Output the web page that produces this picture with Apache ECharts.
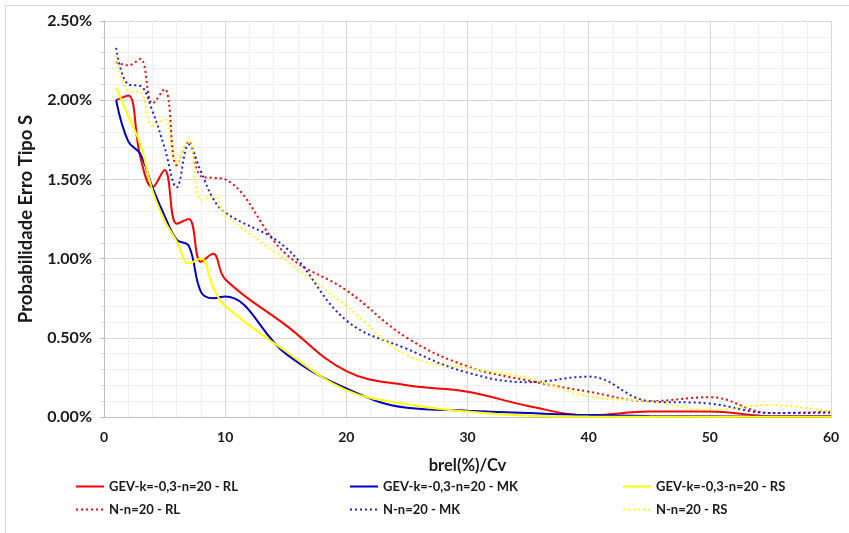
<!DOCTYPE html>
<html>
<head>
<meta charset="utf-8">
<script src="https://cdn.jsdelivr.net/npm/echarts@6/dist/echarts.min.js"></script>
<style>html,body{margin:0;padding:0;background:#fff}#c{width:849px;height:533px}</style>
</head>
<body>
<div id="c"></div>
<script>
// x positions (brel(%)/Cv)
const xValues = [1,2,3,4,5,6,7,8,9,10,15,20,25,30,35,40,45,50,55,60];
// Probabilidade Erro Tipo S, in %
const gevRL = [2.00,2.03,1.64,1.45,1.56,1.22,1.25,0.98,1.03,0.87,0.58,0.29,0.20,0.16,0.07,0.01,0.035,0.035,0.005,0.005];
const gevMK = [2.00,1.74,1.66,1.45,1.27,1.12,1.08,0.79,0.75,0.76,0.40,0.18,0.058,0.040,0.025,0.012,0.006,0.005,0.003,0.003];
const gevRS = [2.08,1.90,1.72,1.43,1.24,1.11,0.97,1.00,0.82,0.70,0.415,0.17,0.08,0.034,0.008,0.003,0.002,0.002,0.002,0.002];
const nRL   = [2.24,2.22,2.26,1.98,2.07,1.59,1.74,1.52,1.51,1.50,1.03,0.80,0.50,0.32,0.23,0.16,0.10,0.125,0.025,0.033];
const nMK   = [2.33,2.10,2.09,1.93,1.70,1.45,1.72,1.55,1.38,1.29,1.07,0.61,0.43,0.28,0.22,0.255,0.10,0.085,0.025,0.027];
const nRS   = [2.28,2.06,2.05,1.84,1.88,1.60,1.76,1.37,1.39,1.28,0.99,0.70,0.39,0.31,0.245,0.13,0.10,0.045,0.076,0.033];
const names = ['GEV-k=-0,3-n=20 - RL','GEV-k=-0,3-n=20 - MK','GEV-k=-0,3-n=20 - RS','N-n=20 - RL','N-n=20 - MK','N-n=20 - RS'];
const yTicks = {min:0, max:2.5, interval:0.5};
const xTicks = {min:0, max:60, interval:10};

const pairs = ys => xValues.map((x,i)=>[x, ys[i]]);
const FONT = 'Lato';
const chart = echarts.init(document.getElementById('c'), null, {renderer:'canvas'});
function ser(name, ys, color, dotted){
  return {
    name, type:'line', data:pairs(ys), smooth:0.4, symbol:'none', showSymbol:false,
    lineStyle:{color, width:2, type: dotted ? [2,3] : 'solid'},
    itemStyle:{color}, emphasis:{disabled:true}
  };
}
function leg(left, data){
  return {
    left, top:480, orient:'vertical', padding:0, itemGap:10, itemWidth:28, itemHeight:14,
    data, selectedMode:false,
    itemStyle:{opacity:0},
    textStyle:{fontFamily:FONT, fontWeight:'bold', fontSize:13, color:'#1a1a1a'}
  };
}
chart.setOption({
  animation:false,
  backgroundColor:'#fff',
  graphic:[{type:'rect', shape:{x:5.5,y:5.5,width:860,height:560}, style:{fill:'none', stroke:'#d9d9d9', lineWidth:1}, silent:true}],
  grid:{left:104, right:18, top:21, bottom:116},
  legend:[leg(75,[names[0],names[3]]), leg(349,[names[1],names[4]]), leg(622,[names[2],names[5]])],
  xAxis:{
    type:'value', min:xTicks.min, max:xTicks.max, interval:xTicks.interval,
    name:'brel(%)/Cv', nameLocation:'middle', nameGap:40,
    nameTextStyle:{fontFamily:FONT, fontWeight:'bold', fontSize:16.5, color:'#1a1a1a'},
    axisLine:{show:true, lineStyle:{color:'#bfbfbf', width:1}},
    axisTick:{show:false},
    axisLabel:{margin:13, fontFamily:FONT, fontWeight:'bold', fontSize:14, color:'#1a1a1a'},
    splitLine:{show:true, lineStyle:{color:'#d9d9d9', width:1}},
    minorTick:{show:false, splitNumber:5},
    minorSplitLine:{show:true, lineStyle:{color:'#f0f0f0', width:1}}
  },
  yAxis:{
    type:'value', min:yTicks.min, max:yTicks.max, interval:yTicks.interval,
    name:'Probabilidade Erro Tipo S', nameLocation:'middle', nameGap:68,
    nameTextStyle:{fontFamily:FONT, fontWeight:'bold', fontSize:18.5, color:'#1a1a1a'},
    axisLine:{show:true, lineStyle:{color:'#bfbfbf', width:1}},
    axisTick:{show:true, inside:false, length:4, lineStyle:{color:'#bfbfbf'}},
    minorTick:{show:true, splitNumber:5, length:3, lineStyle:{color:'#d9d9d9'}},
    axisLabel:{margin:12, fontFamily:FONT, fontWeight:'bold', fontSize:16, color:'#1a1a1a',
      formatter:v=>v.toFixed(2)+'%'},
    splitLine:{show:true, lineStyle:{color:'#d9d9d9', width:1}},
    minorSplitLine:{show:true, lineStyle:{color:'#f0f0f0', width:1}}
  },
  series:[
    ser(names[0], gevRL, '#ff0000', false),
    ser(names[1], gevMK, '#0000c8', false),
    ser(names[2], gevRS, '#ffff00', false),
    ser(names[3], nRL, '#ff0000', true),
    ser(names[4], nMK, '#2020e0', true),
    ser(names[5], nRS, '#ffff00', true)
  ]
});
</script>
</body>
</html>
